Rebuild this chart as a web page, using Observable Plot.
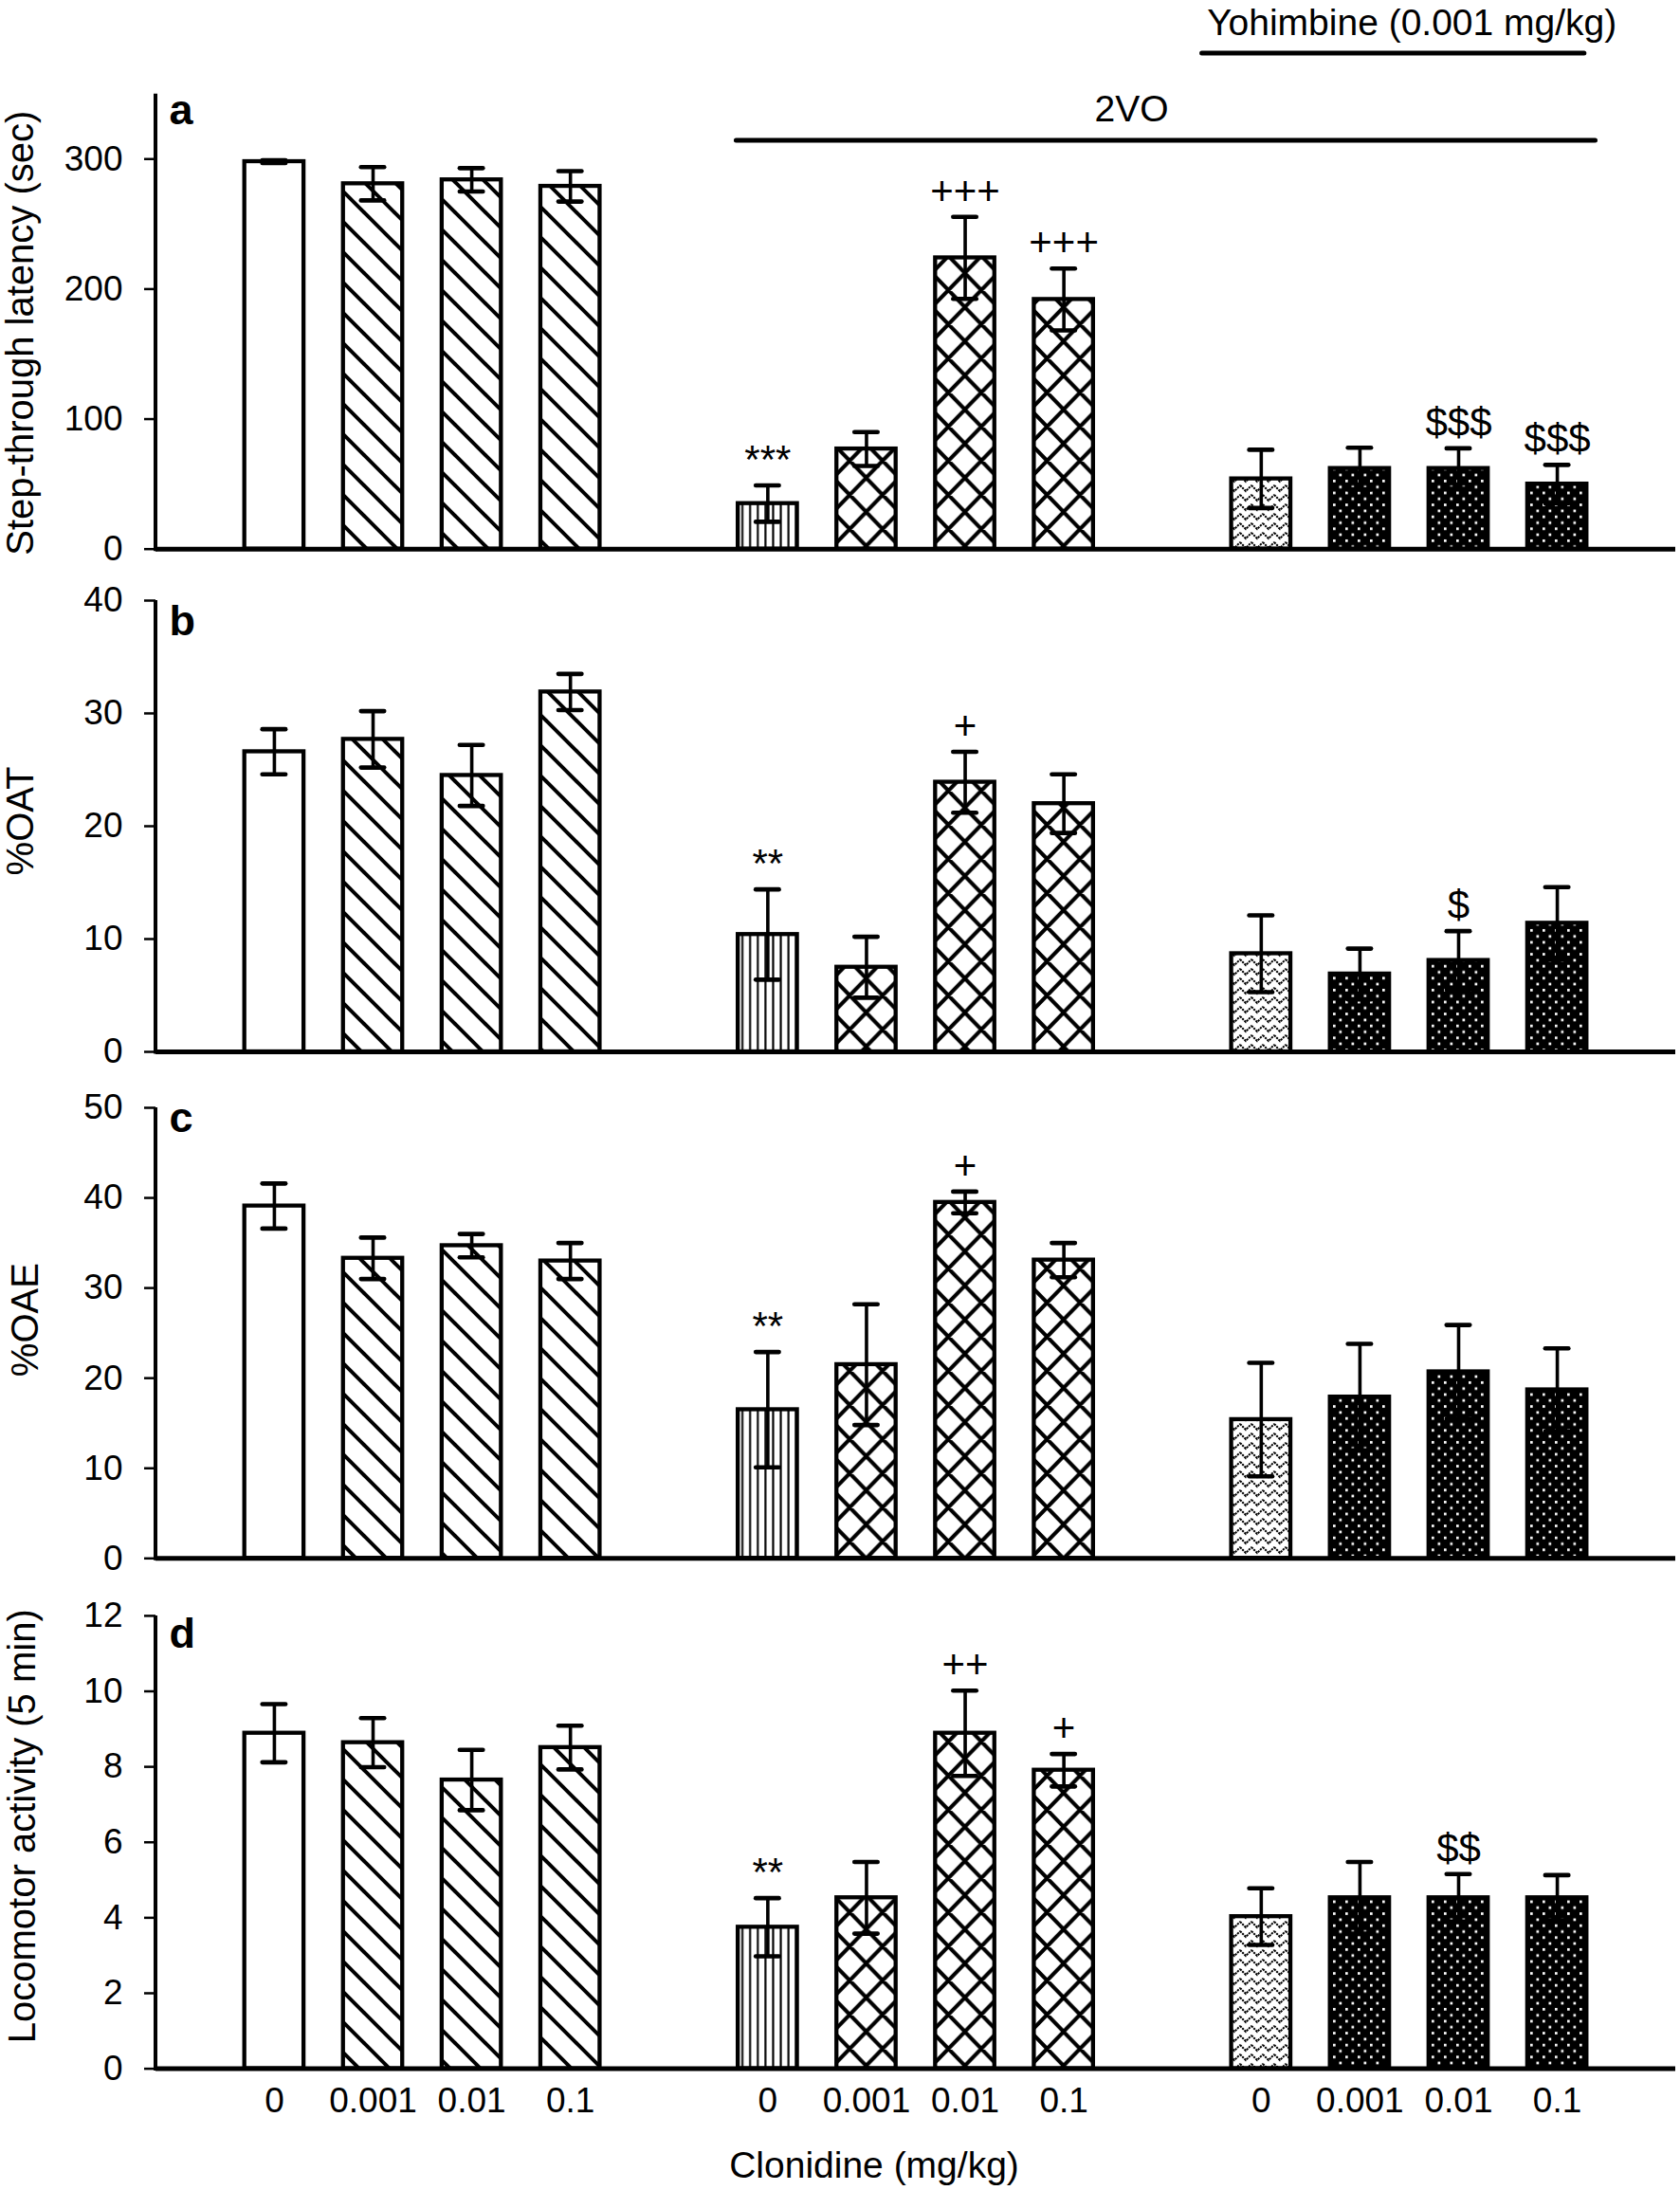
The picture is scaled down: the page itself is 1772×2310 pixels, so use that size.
<!DOCTYPE html>
<html>
<head>
<meta charset="utf-8">
<script src="https://cdn.jsdelivr.net/npm/d3@7"></script>
<script src="https://cdn.jsdelivr.net/npm/@observablehq/plot@0.6"></script>
<style>
  html, body { margin: 0; padding: 0; background: #fff; }
  #fig { width: 1772px; height: 2310px; position: relative; overflow: hidden; background: #fff; }
  #fig > svg { display: block; }
  g[aria-label^="y-axis"] line, g[aria-label^="y-axis"] path { stroke-width: 2.5px; }
</style>
</head>
<body>
<svg width="0" height="0" style="position:absolute;left:0;top:0"><defs id="pdefs"></defs></svg>
<div id="fig"></div>
<script>
// ---------------- data ----------------
const groups = ["Sham", "2VO", "2VO + Yohimbine"];
const doses = ["0", "0.001", "0.01", "0.1"];

// a: step-through latency (sec)
const latencyMean = [298, 281, 284, 279, 35, 77, 224, 192, 54, 62, 62, 50];
const latencySE   = [1, 12.8, 9, 11.7, 14, 13, 31.5, 23.8, 22.4, 16, 15.5, 14.8];
const latencySig  = ["", "", "", "", "***", "", "+++", "+++", "", "", "$$$", "$$$"];

// b: %OAT
const oatMean = [26.6, 27.7, 24.5, 31.9, 10.4, 7.5, 23.9, 22.0, 8.7, 6.9, 8.1, 11.4];
const oatSE   = [2.0, 2.5, 2.7, 1.6, 4.0, 2.7, 2.7, 2.6, 3.4, 2.25, 2.6, 3.2];
const oatSig  = ["", "", "", "", "**", "", "+", "", "", "", "$", ""];

// c: %OAE
const oaeMean = [39.1, 33.3, 34.7, 33.0, 16.5, 21.5, 39.5, 33.1, 15.4, 17.9, 20.7, 18.7];
const oaeSE   = [2.5, 2.3, 1.3, 2.0, 6.4, 6.7, 1.2, 1.9, 6.3, 5.9, 5.2, 4.6];
const oaeSig  = ["", "", "", "", "**", "", "+", "", "", "", "", ""];

// d: locomotor activity (5 min)
const locoMean = [8.89, 8.64, 7.65, 8.51, 3.75, 4.53, 8.89, 7.91, 4.03, 4.53, 4.53, 4.53];
const locoSE   = [0.77, 0.65, 0.8, 0.58, 0.77, 0.95, 1.13, 0.43, 0.75, 0.95, 0.63, 0.6];
const locoSig  = ["", "", "", "", "**", "", "++", "+", "", "", "$$", ""];

const latencyTicks = [0, 100, 200, 300];
const oatTicks = [0, 10, 20, 30, 40];
const oaeTicks = [0, 10, 20, 30, 40, 50];
const locoTicks = [0, 2, 4, 6, 8, 10, 12];

const brackets = [
  {label: "2VO", first: "2VO|0", last: "2VO + Yohimbine|0.1"},
  {label: "Yohimbine (0.001 mg/kg)", first: "2VO + Yohimbine|0", last: "2VO + Yohimbine|0.1"}
];
const xTitle = "Clonidine (mg/kg)";

// ---------------- layout / styles ----------------
const FONT = "'Liberation Sans', Arial, Helvetica, sans-serif";
const W = 1772, ML = 164, MR = 5;
const bracketLayout = {
  "2VO": {levelFrac: 0.8973, extL: 1.7, extR: 9.2, labelDy: -20, labelShift: -36},
  "Yohimbine (0.001 mg/kg)": {levelFrac: 1.0889, extL: 31, extR: -2.5, labelDy: -19, labelShift: 20}
};

// patterns
const NS = "http://www.w3.org/2000/svg";
function diag(Wd, Ht, dir) {
  let d = "";
  for (const ox of [-Wd, 0, Wd]) for (const oy of [-Ht, 0, Ht]) {
    d += dir > 0 ? `M${ox},${oy}L${ox + Wd},${oy + Ht}` : `M${ox + Wd},${oy}L${ox},${oy + Ht}`;
  }
  return d;
}
function addPattern(id, w, h, bg, inner, x0 = 0, y0 = 0) {
  const p = document.createElementNS(NS, "pattern");
  p.setAttribute("id", id);
  p.setAttribute("patternUnits", "userSpaceOnUse");
  p.setAttribute("width", w); p.setAttribute("height", h);
  p.setAttribute("x", x0); p.setAttribute("y", y0);
  p.innerHTML = `<rect width="${w}" height="${h}" fill="${bg}"/>` + inner;
  document.getElementById("pdefs").appendChild(p);
}
addPattern("pHatch", 32, 32, "#fff", `<path d="${diag(32, 32, 1)}" stroke="#000" stroke-width="4" fill="none"/>`);
addPattern("pCross", 34.7, 36, "#fff", `<path d="${diag(34.7, 36, 1)}${diag(34.7, 36, -1)}" stroke="#000" stroke-width="4" fill="none"/>`, 289, 0);
addPattern("pVert", 8.1, 10, "#fff", `<rect x="3" y="0" width="2.1" height="10" fill="#000"/>`, 779, 0);
addPattern("pDots", 13, 12.6, "#000", `<rect x="2" y="2" width="2.7" height="2.7" fill="#fff"/><rect x="8.5" y="8.3" width="2.7" height="2.7" fill="#fff"/>`);
addPattern("pZig", 12, 10, "#fff", `<path d="M0,2L6,8L12,2" stroke="#000" stroke-width="2" fill="none" stroke-dasharray="2.2 1"/><path d="M-6,7L0,1M12,1L18,7" stroke="#000" stroke-width="1.6" fill="none" stroke-dasharray="1.6 1.2"/>`);

function fillFor(d) {
  if (d.group === groups[0]) return d.dose === doses[0] ? "white" : "url(#pHatch)";
  if (d.group === groups[1]) return d.dose === doses[0] ? "url(#pVert)" : "url(#pCross)";
  return d.dose === doses[0] ? "url(#pZig)" : "url(#pDots)";
}

// x slots: bars with one empty slot between groups
const slots = [];
groups.forEach((g, gi) => {
  if (gi > 0) slots.push("gap" + gi);
  doses.forEach(d => slots.push(g + "|" + d));
});
const barKeys = slots.filter(k => !k.startsWith("gap"));

function rows(means, ses, sig) {
  return groups.flatMap((g, gi) => doses.map((d, di) => {
    const i = gi * doses.length + di;
    return {group: g, dose: d, key: g + "|" + d, mean: means[i], se: ses[i], sig: sig[i]};
  }));
}

const yAxisLine = (index, scales) => {
  const {x, y} = scales;
  const x0 = x.range()[0];
  const r = y.range();
  return d3.create("svg:line")
    .attr("x1", x0).attr("x2", x0)
    .attr("y1", Math.max(r[0], r[1]) + 2.5).attr("y2", Math.min(r[0], r[1]))
    .attr("stroke", "#000").attr("stroke-width", 4).node();
};

function headerMark(yTop) {
  return (index, scales) => {
    const {x, y} = scales;
    const bw = x.bandwidth();
    const g = d3.create("svg:g");
    for (const b of brackets) {
      const L = bracketLayout[b.label];
      const lvl = y(yTop * L.levelFrac);
      const x1 = x(b.first) - L.extL, x2 = x(b.last) + bw + L.extR;
      g.append("line").attr("x1", x1).attr("x2", x2).attr("y1", lvl).attr("y2", lvl)
        .attr("stroke", "#000").attr("stroke-width", 5).attr("stroke-linecap", "round");
      g.append("text").attr("x", (x1 + x2) / 2 + L.labelShift).attr("y", lvl + L.labelDy)
        .attr("text-anchor", "middle").attr("font-size", 39).attr("fill", "#000")
        .attr("font-family", FONT).text(b.label);
    }
    return g.node();
  };
}

const panels = [
  {letter: "a", title: "Step-through latency (sec)", mean: latencyMean, se: latencySE, sig: latencySig, ticks: latencyTicks, top: 350,
   height: 600, mt: 98.7, mb: 21.3, titleX: 22, titleDy: 12, letterDy: 31.3, header: true},
  {letter: "b", title: "%OAT", mean: oatMean, se: oatSE, sig: oatSig, ticks: oatTicks, top: 40,
   height: 540, mt: 33, mb: 31, titleX: 22, titleDy: -5.5, letterDy: 36},
  {letter: "c", title: "%OAE", mean: oaeMean, se: oaeSE, sig: oaeSig, ticks: oaeTicks, top: 50,
   height: 535, mt: 28, mb: 31.7, titleX: 27, titleDy: -14, letterDy: 25},
  {letter: "d", title: "Locomotor activity (5 min)", mean: locoMean, se: locoSE, sig: locoSig, ticks: locoTicks, top: 12,
   height: 635, mt: 28.9, mb: 128.4, titleX: 24, titleDy: -17, letterDy: 34, xaxis: true}
];

const fig = document.getElementById("fig");
for (const p of panels) {
  const data = rows(p.mean, p.se, p.sig);
  const fills = [...new Set(data.map(fillFor))];
  const marks = [];
  for (const f of fills) {
    marks.push(Plot.barY(data.filter(d => fillFor(d) === f), {x: "key", y: "mean", fill: f, stroke: "#000", strokeWidth: 4.3}));
  }
  marks.push(Plot.ruleY([0], {stroke: "#000", strokeWidth: 5}));
  marks.push(yAxisLine);
  marks.push(Plot.ruleX(data, {x: "key", y1: d => d.mean - d.se, y2: d => d.mean + d.se, stroke: "#000", strokeWidth: 3.6}));
  marks.push(Plot.tickY(data, {x: "key", y: d => d.mean + d.se, insetLeft: 19, insetRight: 19, stroke: "#000", strokeWidth: 4.6, strokeLinecap: "round"}));
  marks.push(Plot.tickY(data, {x: "key", y: d => d.mean - d.se, insetLeft: 19, insetRight: 19, stroke: "#000", strokeWidth: 4.6, strokeLinecap: "round"}));
  marks.push(Plot.text(data.filter(d => d.sig), {x: "key", y: d => d.mean + d.se, text: "sig", lineAnchor: "bottom", dy: -13, fontSize: 42, fill: "#000"}));
  marks.push(Plot.text([p.letter], {frameAnchor: "top-left", dx: 14, dy: p.letterDy, lineAnchor: "bottom", fontWeight: "bold", fontSize: 45, fill: "#000"}));
  marks.push(Plot.text([p.title], {frameAnchor: "left", rotate: -90, dx: p.titleX - ML, dy: p.titleDy, textAnchor: "middle", lineAnchor: "middle", fontSize: 40, fill: "#000"}));
  if (p.header) marks.push(headerMark(p.top));
  if (p.xaxis) marks.push(Plot.text([xTitle], {frameAnchor: "bottom", dx: -44, dy: 115, lineAnchor: "bottom", fontSize: 39, fill: "#000"}));

  const xOpts = {type: "band", domain: slots, paddingInner: 0.4, paddingOuter: 0.9, align: 0.5, round: false, label: null};
  if (p.xaxis) Object.assign(xOpts, {axis: "bottom", ticks: barKeys, tickFormat: k => k.split("|")[1], tickSize: 0, tickPadding: 20});
  else xOpts.axis = null;

  const chart = Plot.plot({
    width: W, height: p.height,
    marginLeft: ML, marginRight: MR, marginTop: p.mt, marginBottom: p.mb,
    style: {fontFamily: FONT, fontSize: "37px", color: "#000", background: "#fff", overflow: "visible"},
    x: xOpts,
    y: {domain: [0, p.top], ticks: p.ticks, tickSize: 12, tickPadding: 23, label: null},
    marks
  });
  fig.appendChild(chart);
}
</script>
</body>
</html>
